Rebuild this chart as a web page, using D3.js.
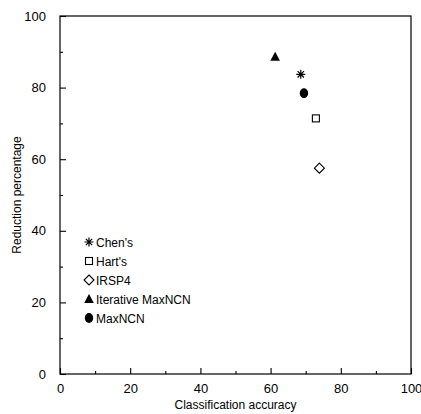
<!DOCTYPE html>
<html>
<head>
<meta charset="utf-8">
<script src="https://cdn.jsdelivr.net/npm/d3@7"></script>
<style>
  body { margin: 0; background: #fff; }
  text { font-family: "Liberation Sans", Arial, sans-serif; fill: #000; }
</style>
</head>
<body>
<svg id="chart" width="421" height="414"></svg>
<script>
// data
var methods = ["Chen's", "Hart's", "IRSP4", "Iterative MaxNCN", "MaxNCN"];
var accuracy = [68.6, 72.9, 73.9, 61.3, 69.5];
var reduction = [83.7, 71.4, 57.5, 88.6, 78.4];
var majorTicks = [0, 20, 40, 60, 80, 100];
var minorTicks = [10, 30, 50, 70, 90];

var margin = {left: 60, right: 10, top: 16, bottom: 40};
var width = 421, height = 414;

var svg = d3.select('#chart');

var x = d3.scaleLinear().domain([0, 100]).range([margin.left, width - margin.right]);
var y = d3.scaleLinear().domain([0, 100]).range([height - margin.bottom, margin.top]);

// frame
svg.append('rect')
  .attr('x', x(0)).attr('y', y(100))
  .attr('width', x(100) - x(0)).attr('height', y(0) - y(100))
  .attr('fill', 'none').attr('stroke', '#000').attr('stroke-width', 1.2);

// axes with inward ticks
svg.append('g').attr('transform', 'translate(0,' + y(0) + ')')
  .call(d3.axisBottom(x).tickValues(majorTicks).tickSize(-6).tickPadding(10).tickFormat(d3.format('d')));
svg.append('g').attr('transform', 'translate(0,' + y(0) + ')')
  .call(d3.axisBottom(x).tickValues(minorTicks).tickSize(-3).tickFormat(''));

svg.append('g').attr('transform', 'translate(' + x(0) + ',0)')
  .call(d3.axisLeft(y).tickValues(majorTicks).tickSize(-6).tickPadding(14).tickFormat(d3.format('d')));
svg.append('g').attr('transform', 'translate(' + x(0) + ',0)')
  .call(d3.axisLeft(y).tickValues(minorTicks).tickSize(-3).tickFormat(''));

svg.selectAll('.domain').remove();
svg.selectAll('.tick line').attr('stroke', '#000').attr('stroke-width', 1.1);
svg.selectAll('.tick text').style('font-size', '13px')
  .style('font-family', '"Liberation Sans", Arial, sans-serif');

// axis titles
svg.append('text')
  .attr('x', (x(0) + x(100)) / 2).attr('y', 409)
  .attr('text-anchor', 'middle').style('font-size', '12px')
  .text('Classification accuracy');

svg.append('text')
  .attr('transform', 'translate(21,' + (y(0) + y(100)) / 2 + ') rotate(-90)')
  .attr('text-anchor', 'middle').style('font-size', '12px')
  .text('Reduction percentage');

// marker drawing
function drawMarker(g, i) {
  var s = 4.5;
  if (i === 0) {
    var p = '';
    [0, 45, 90, 135].forEach(function(a) {
      var r = a * Math.PI / 180;
      p += 'M' + (-s * Math.cos(r)) + ',' + (-s * Math.sin(r)) + 'L' + (s * Math.cos(r)) + ',' + (s * Math.sin(r));
    });
    g.append('path').attr('d', p).attr('stroke', '#000').attr('stroke-width', 1.2).attr('fill', 'none');
  } else if (i === 1) {
    g.append('rect').attr('x', -3.5).attr('y', -3.5).attr('width', 7).attr('height', 7)
      .attr('fill', 'none').attr('stroke', '#000').attr('stroke-width', 1.1);
  } else if (i === 2) {
    g.append('path').attr('d', 'M0,-5L5,0L0,5L-5,0Z')
      .attr('fill', 'none').attr('stroke', '#000').attr('stroke-width', 1.1);
  } else if (i === 3) {
    g.append('path').attr('d', 'M0,-5L4.8,4L-4.8,4Z').attr('fill', '#000');
  } else {
    g.append('ellipse').attr('rx', 4.2).attr('ry', 5).attr('fill', '#000');
  }
}

methods.forEach(function(m, i) {
  var g = svg.append('g').attr('transform', 'translate(' + x(accuracy[i]) + ',' + y(reduction[i]) + ')');
  drawMarker(g, i);
});

// legend
var legend = svg.append('g').attr('transform', 'translate(89,242)');
methods.forEach(function(m, i) {
  var row = legend.append('g').attr('transform', 'translate(0,' + (i * 19) + ')');
  drawMarker(row, i);
  row.append('text').attr('x', 7).attr('y', 4.5).style('font-size', '12px').text(m);
});
</script>
</body>
</html>
